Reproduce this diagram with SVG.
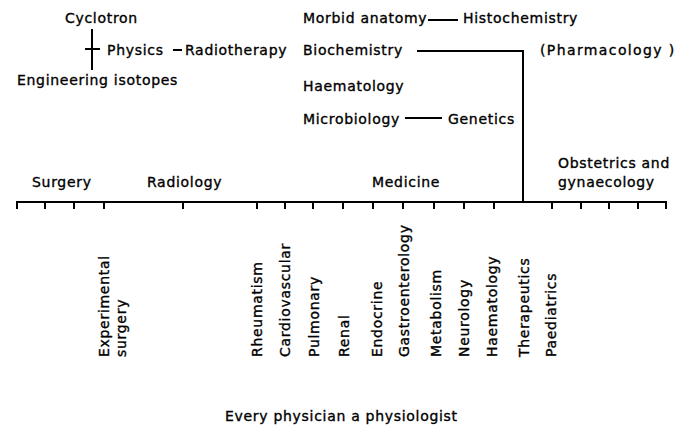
<svg xmlns="http://www.w3.org/2000/svg" width="690" height="432" viewBox="0 0 690 432">
<style>
text{font-family:"DejaVu Sans","Liberation Sans",sans-serif;font-size:14px;letter-spacing:0.7px;fill:#000;stroke:#000;stroke-width:0.35px}
.ln{stroke:#000;stroke-width:2;fill:none}
.tk{stroke:#000;stroke-width:2}
</style>
<rect width="690" height="432" fill="#fff"/>
<g id="connectors">
<path class="ln" d="M92 29V70M85 49H100"/>
<path class="ln" d="M173 50H182"/>
<path class="ln" d="M428 20H458"/>
<path class="ln" d="M417 51H523V202"/>
<path class="ln" d="M405 118H442"/>
</g>
<g id="axis">
<path class="ln" d="M17 209V202H666V209"/>
<g class="tk">
<path d="M45 202V209M74 202V209M104 202V209M183 202V209M257 202V209M285 202V209M313 202V209M343 202V209M373 202V209M403 202V209M434 202V209M464 202V209M494 202V209M552 202V209M581 202V209M609 202V209M638 202V209"/>
</g>
</g>
<g id="n-cyclotron"><text x="65" y="23">Cyclotron</text></g>
<g id="n-physics"><text x="107" y="55">Physics</text></g>
<g id="n-radiotherapy"><text x="185" y="55">Radiotherapy</text></g>
<g id="n-engineering"><text x="17" y="85">Engineering isotopes</text></g>
<g id="n-morbid"><text x="303" y="23">Morbid anatomy</text></g>
<g id="n-histochemistry"><text x="463" y="23">Histochemistry</text></g>
<g id="n-biochemistry"><text x="303" y="55">Biochemistry</text></g>
<g id="n-pharmacology"><text x="540" y="55" textLength="135" lengthAdjust="spacing">(Pharmacology )</text></g>
<g id="n-haematology-top"><text x="303" y="91">Haematology</text></g>
<g id="n-microbiology"><text x="303" y="124">Microbiology</text></g>
<g id="n-genetics"><text x="448" y="124">Genetics</text></g>
<g id="n-surgery"><text x="32" y="187">Surgery</text></g>
<g id="n-radiology"><text x="147" y="187">Radiology</text></g>
<g id="n-medicine"><text x="372" y="187">Medicine</text></g>
<g id="n-obstetrics"><text x="558" y="168">Obstetrics and</text><text x="558" y="187">gynaecology</text></g>
<g id="n-experimental"><text transform="translate(109 357) rotate(-90)">Experimental</text><text transform="translate(126 357) rotate(-90)">surgery</text></g>
<g id="n-rheumatism"><text transform="translate(262 357) rotate(-90)">Rheumatism</text></g>
<g id="n-cardiovascular"><text transform="translate(290 357) rotate(-90)">Cardiovascular</text></g>
<g id="n-pulmonary"><text transform="translate(319 357) rotate(-90)">Pulmonary</text></g>
<g id="n-renal"><text transform="translate(349 357) rotate(-90)">Renal</text></g>
<g id="n-endocrine"><text transform="translate(382 357) rotate(-90)">Endocrine</text></g>
<g id="n-gastro"><text transform="translate(409 357) rotate(-90)">Gastroenterology</text></g>
<g id="n-metabolism"><text transform="translate(441 357) rotate(-90)">Metabolism</text></g>
<g id="n-neurology"><text transform="translate(469 357) rotate(-90)">Neurology</text></g>
<g id="n-haematology"><text transform="translate(497 357) rotate(-90)">Haematology</text></g>
<g id="n-therapeutics"><text transform="translate(529 357) rotate(-90)">Therapeutics</text></g>
<g id="n-paediatrics"><text transform="translate(556 357) rotate(-90)">Paediatrics</text></g>
<g id="n-physiologist"><text x="225" y="421">Every physician a physiologist</text></g>
</svg>
